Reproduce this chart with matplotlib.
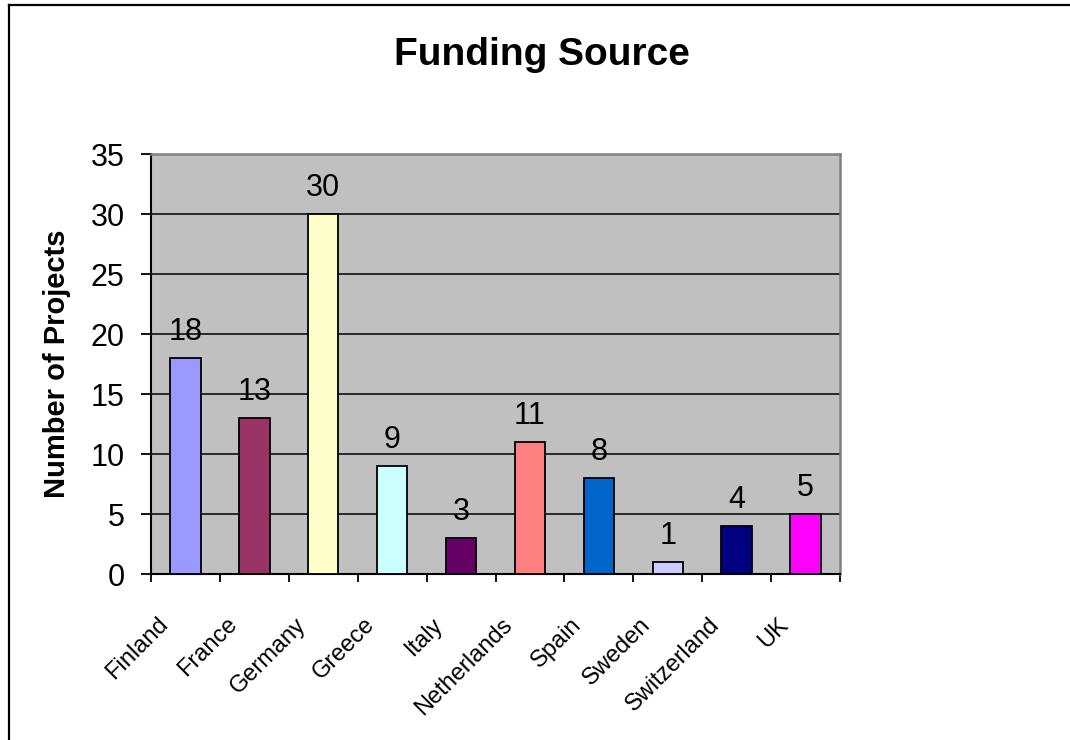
import matplotlib
matplotlib.use("Agg")
import matplotlib.pyplot as plt
from matplotlib.lines import Line2D
import numpy as np

plt.rcParams['font.family'] = ['Liberation Sans', 'DejaVu Sans']

categories = ["Finland", "France", "Germany", "Greece", "Italy", "Netherlands",
              "Spain", "Sweden", "Switzerland", "UK"]
values = [18, 13, 30, 9, 3, 11, 8, 1, 4, 5]
colors = ["#9999FF", "#993366", "#FFFFCC", "#CCFFFF", "#660066", "#FF8080",
          "#0066CC", "#CCCCFF", "#000080", "#FF00FF"]
yticks = [0, 5, 10, 15, 20, 25, 30, 35]
title = "Funding Source"
ylabel = "Number of Projects"

fig = plt.figure(figsize=(10.7, 7.4), dpi=100)
fig.patch.set_facecolor("white")
ax = fig.add_axes([151/1070, 1-574/740, (840-151)/1070, (574-154)/740])
ax.set_facecolor("#C0C0C0")

x = np.arange(len(categories))
ax.set_axisbelow(True)
ax.yaxis.grid(True, color="black", linewidth=1.1)
ax.bar(x, values, width=0.44, color=colors, edgecolor="black", linewidth=1.3, zorder=3)

ax.set_xlim(-0.5, len(categories) - 0.5)
ax.set_ylim(0, 35)
ax.set_yticks(yticks)
ax.set_yticklabels([str(t) for t in yticks], fontsize=22)
ax.tick_params(axis='y', direction='out', length=7, width=1.3, pad=12, color='black')

ax.set_xticks(np.arange(len(categories) + 1) - 0.5)
ax.set_xticklabels([])
ax.tick_params(axis='x', direction='out', length=6, width=1.3, color='black')

for s in ['left', 'bottom']:
    ax.spines[s].set_color('black')
    ax.spines[s].set_linewidth(1.5)
for s in ['top', 'right']:
    ax.spines[s].set_color('#808080')
    ax.spines[s].set_linewidth(1.8)

for i, (c, v) in enumerate(zip(categories, values)):
    ax.annotate(str(v), xy=(i, v), xytext=(0, 13), textcoords='offset points',
                ha='center', va='baseline', fontsize=22, zorder=4)
    ax.annotate(c, xy=(i, 0), xytext=(-15, -34), textcoords='offset points',
                ha='right', va='center', rotation=45, rotation_mode='anchor',
                fontsize=17, annotation_clip=False)

ax.set_ylabel(ylabel, fontsize=21, fontweight='bold', labelpad=14)
fig.text(542/1070, 1-55/740, title, ha='center', va='center', fontsize=28, fontweight='bold')

# figure border (left and top visible)
fig.add_artist(Line2D([9/1070, 9/1070], [0, 1-5/740], transform=fig.transFigure,
                      color='black', linewidth=1.6))
fig.add_artist(Line2D([9/1070, 1], [1-5/740, 1-5/740], transform=fig.transFigure,
                      color='black', linewidth=1.6))

fig.savefig("out.png", dpi=100, facecolor="white")
